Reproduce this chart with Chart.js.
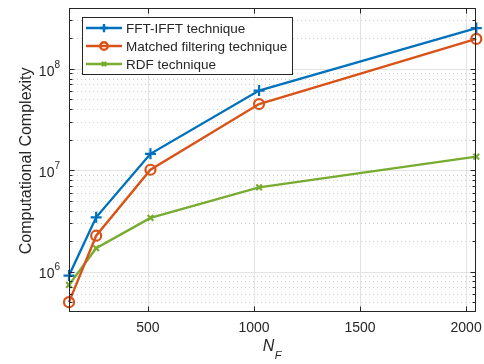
<!DOCTYPE html>
<html>
<head>
<meta charset="utf-8">
<script src="https://cdn.jsdelivr.net/npm/chart.js@4.4.1/dist/chart.umd.min.js"></script>
<style>
  html, body { margin: 0; padding: 0; background: #fff; }
  #wrap { width: 484px; height: 364px; }
</style>
</head>
<body>
<div id="wrap"><canvas id="c" width="484" height="364"></canvas></div>
<script>
  // values
  const nF = [128, 256, 512, 1024, 2048];
  const fftIfft = [9.15e5, 3.43e6, 1.45e7, 6.1e7, 2.52e8];
  const matched = [5.0e5, 2.26e6, 1.01e7, 4.49e7, 1.97e8];
  const rdf = [7.4e5, 1.7e6, 3.39e6, 6.77e6, 1.36e7];
  const seriesNames = ["FFT-IFFT technique", "Matched filtering technique", "RDF technique"];
  const xTicks = [500, 1000, 1500, 2000];
  const yTicks = [1e6, 1e7, 1e8];
  const yMin = 4e5;
  const yMax = 4e8;

  const FONT = "'Liberation Sans', Arial, sans-serif";
  const TXT = "#262626";

  function pts(ys) {
    return nF.map((x, i) => ({ x, y: ys[i] }));
  }

  function minorValues() {
    const out = [];
    for (let e = 5; e <= 8; e++) {
      for (let k = 2; k <= 9; k++) {
        const v = k * Math.pow(10, e);
        if (v > yMin && v < yMax) out.push(v);
      }
    }
    return out;
  }

  const matlabAxes = {
    id: "matlabAxes",
    beforeDatasetsDraw(chart) {
      const { ctx, chartArea: a, scales } = chart;
      const xs = scales.x, ys = scales.y;
      ctx.save();
      ctx.beginPath();
      ctx.rect(a.left, a.top, a.right - a.left, a.bottom - a.top);
      ctx.clip();
      // minor dotted grid
      ctx.strokeStyle = "#cfcfcf";
      ctx.lineWidth = 1;
      ctx.setLineDash([1, 3]);
      minorValues().forEach((v) => {
        const y = Math.round(ys.getPixelForValue(v)) + 0.5;
        ctx.beginPath();
        ctx.moveTo(a.left, y);
        ctx.lineTo(a.right, y);
        ctx.stroke();
      });
      ctx.setLineDash([]);
      // major grid
      ctx.strokeStyle = "#e3e3e3";
      yTicks.forEach((v) => {
        const y = Math.round(ys.getPixelForValue(v)) + 0.5;
        ctx.beginPath();
        ctx.moveTo(a.left, y);
        ctx.lineTo(a.right, y);
        ctx.stroke();
      });
      xTicks.forEach((v) => {
        const x = Math.round(xs.getPixelForValue(v)) + 0.5;
        ctx.beginPath();
        ctx.moveTo(x, a.top);
        ctx.lineTo(x, a.bottom);
        ctx.stroke();
      });
      ctx.restore();
    },
    afterDatasetsDraw(chart) {
      const { ctx, chartArea: a, scales } = chart;
      const xs = scales.x, ys = scales.y;
      const L = Math.round(a.left) + 0.5, R = Math.round(a.right) - 0.5;
      const T = Math.round(a.top) + 0.5, B = Math.round(a.bottom) - 0.5;
      ctx.save();
      ctx.strokeStyle = TXT;
      ctx.lineWidth = 1;
      ctx.strokeRect(L, T, R - L, B - T);

      // tick marks, pointing inward
      ctx.beginPath();
      xTicks.forEach((v) => {
        const x = Math.round(xs.getPixelForValue(v)) + 0.5;
        ctx.moveTo(x, B); ctx.lineTo(x, B - 5);
        ctx.moveTo(x, T); ctx.lineTo(x, T + 5);
      });
      yTicks.forEach((v) => {
        const y = Math.round(ys.getPixelForValue(v)) + 0.5;
        ctx.moveTo(L, y); ctx.lineTo(L + 5, y);
        ctx.moveTo(R, y); ctx.lineTo(R - 5, y);
      });
      minorValues().forEach((v) => {
        const y = Math.round(ys.getPixelForValue(v)) + 0.5;
        ctx.moveTo(L, y); ctx.lineTo(L + 3, y);
        ctx.moveTo(R, y); ctx.lineTo(R - 3, y);
      });
      ctx.stroke();

      // x tick labels
      ctx.fillStyle = TXT;
      ctx.font = "14px " + FONT;
      ctx.textAlign = "center";
      ctx.textBaseline = "middle";
      xTicks.forEach((v) => {
        ctx.fillText(String(v), xs.getPixelForValue(v), a.bottom + 16);
      });

      // y tick labels as 10 with a raised exponent
      yTicks.forEach((v) => {
        const y = ys.getPixelForValue(v);
        const exp = String(Math.round(Math.log10(v)));
        ctx.font = "10px " + FONT;
        const ew = ctx.measureText(exp).width;
        ctx.textAlign = "left";
        ctx.fillText(exp, a.left - 10 - ew + 1, y - 4);
        ctx.font = "14px " + FONT;
        ctx.textAlign = "right";
        ctx.fillText("10", a.left - 10 - ew + 1, y + 3);
      });

      // y axis title
      ctx.save();
      ctx.translate(27, (a.top + a.bottom) / 2 + 1);
      ctx.rotate(-Math.PI / 2);
      ctx.font = "16px " + FONT;
      ctx.textAlign = "center";
      ctx.fillText("Computational Complexity", 0, 0);
      ctx.restore();

      // x axis title N_F
      ctx.font = "italic 16px " + FONT;
      ctx.textAlign = "left";
      const cx = (a.left + a.right) / 2;
      ctx.fillText("N", cx - 10, 347);
      ctx.font = "italic 11px " + FONT;
      ctx.fillText("F", cx + 2, 356);

      // legend
      const lx = 82, ly = 17, lw = 210, lh = 57;
      ctx.fillStyle = "#ffffff";
      ctx.fillRect(lx, ly, lw, lh);
      ctx.strokeStyle = TXT;
      ctx.strokeRect(lx + 0.5, ly + 0.5, lw, lh);
      chart.data.datasets.forEach((ds, i) => {
        const yy = 28 + i * 18;
        ctx.strokeStyle = ds.borderColor;
        ctx.lineWidth = ds.borderWidth;
        ctx.beginPath();
        ctx.moveTo(86, yy);
        ctx.lineTo(122, yy);
        ctx.stroke();
        ctx.fillStyle = "rgba(0,0,0,0)";
        Chart.helpers.drawPoint(ctx, {
          pointStyle: ds.pointStyle,
          radius: ds.pointRadius * 0.75,
          borderWidth: 2,
          rotation: 0
        }, 104, yy);
        ctx.fillStyle = TXT;
        ctx.font = "13.5px " + FONT;
        ctx.textAlign = "left";
        ctx.textBaseline = "middle";
        ctx.fillText(ds.label, 126, yy + 1);
      });
      ctx.restore();
    }
  };

  function makeSet(label, values, color, style, radius) {
    return {
      label,
      data: pts(values),
      borderColor: color,
      backgroundColor: color,
      borderWidth: 2.4,
      pointStyle: style,
      pointRadius: radius,
      pointHoverRadius: radius,
      pointBorderWidth: 2.2,
      pointBorderColor: color,
      pointBackgroundColor: "rgba(0,0,0,0)",
      tension: 0,
      clip: false
    };
  }

  new Chart(document.getElementById("c"), {
    type: "line",
    data: {
      datasets: [
        makeSet(seriesNames[0], fftIfft, "#0072BD", "cross", 5.5),
        makeSet(seriesNames[1], matched, "#D95319", "circle", 5),
        makeSet(seriesNames[2], rdf, "#77AC30", "crossRot", 4)
      ]
    },
    options: {
      responsive: false,
      animation: false,
      layout: { padding: { left: 69, right: 5, top: 5, bottom: 52 } },
      plugins: { legend: { display: false }, tooltip: { enabled: false } },
      scales: {
        x: { type: "linear", min: 128, max: 2048, display: false },
        y: { type: "logarithmic", min: yMin, max: yMax, display: false }
      }
    },
    plugins: [matlabAxes]
  });
</script>
</body>
</html>
